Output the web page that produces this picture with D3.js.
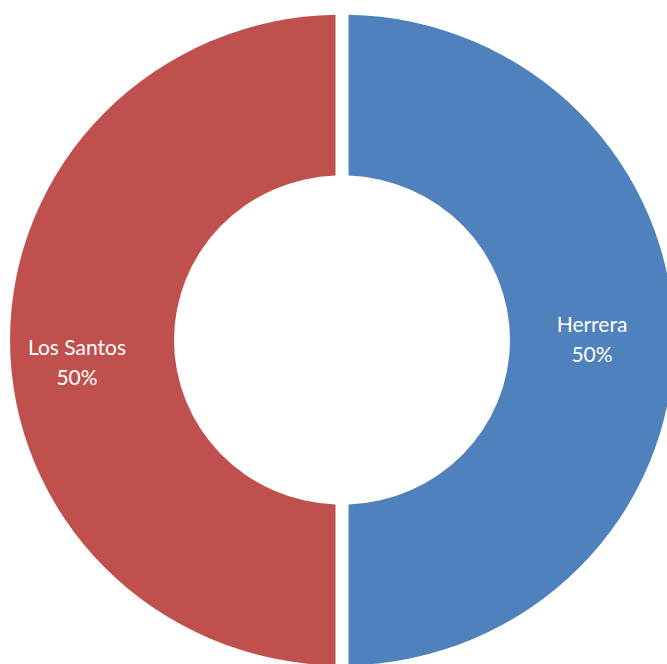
<!DOCTYPE html>
<html>
<head>
<meta charset="utf-8">
<script src="https://cdn.jsdelivr.net/npm/d3@7"></script>
<style>
  body { margin: 0; background: #fff; }
  svg { display: block; }
</style>
</head>
<body>
<svg></svg>
<script>
// data
const regions = ["Herrera", "Los Santos"];
const shares = [50, 50];
const colors = ["#4F81BD", "#C0504D"];

const width = 667;
const height = 664;

const svg = d3.select("svg")
    .attr("width", width)
    .attr("height", height);

const cx = 342, cy = 340;
const outerR = 332;
const innerR = 168;
const gap = 13;

const data = regions.map((r, i) => ({ name: r, value: shares[i], color: colors[i] }));

const pie = d3.pie()
    .sort(null)
    .value(d => d.value);

const arc = d3.arc()
    .innerRadius(innerR)
    .outerRadius(outerR)
    .padAngle(gap / outerR)
    .padRadius(outerR);

// chart is a bit squashed vertically, like the original
const g = svg.append("g")
    .attr("transform", `translate(${cx},${cy}) scale(1,0.98)`);

const arcs = pie(data);

g.selectAll("path")
    .data(arcs)
    .enter()
    .append("path")
    .attr("d", arc)
    .attr("fill", d => d.data.color);

// labels
const labelArc = d3.arc()
    .innerRadius((innerR + outerR) / 2)
    .outerRadius((innerR + outerR) / 2);

const labels = svg.append("g")
    .attr("transform", `translate(${cx},${cy})`);

arcs.forEach((d, i) => {
    const [x, y] = labelArc.centroid(d);
    // excel pushes the left label a bit out and down
    const dx = i === 1 ? -15 : 0;
    const dy = i === 1 ? 23 : 0;
    const t = labels.append("text")
        .attr("text-anchor", "middle")
        .style("font-family", "Lato, 'Open Sans', sans-serif")
        .style("font-size", "21px")
        .style("fill", "#fff");
    t.append("tspan")
        .attr("x", x + dx)
        .attr("y", y * 0.98 + dy - 8)
        .text(d.data.name);
    t.append("tspan")
        .attr("x", x + dx)
        .attr("y", y * 0.98 + dy + 22)
        .text(d.data.value + "%");
});
</script>
</body>
</html>
